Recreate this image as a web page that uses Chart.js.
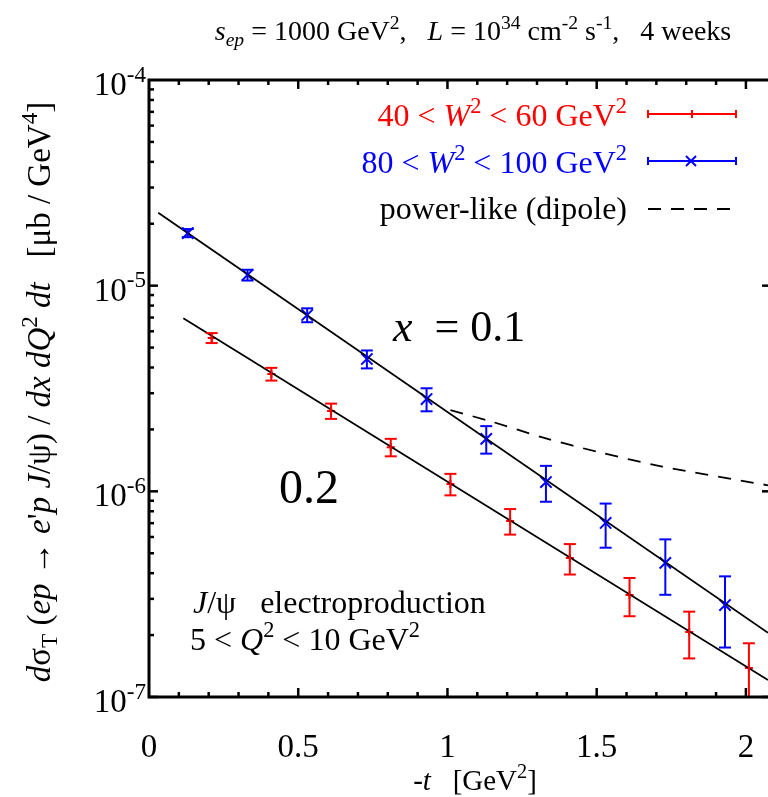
<!DOCTYPE html>
<html>
<head>
<meta charset="utf-8">
<script src="https://cdn.jsdelivr.net/npm/chart.js@4"></script>
<style>
  html, body { margin: 0; padding: 0; background: #fff; }
  canvas { display: block; }
</style>
</head>
<body>
<canvas id="chart" width="768" height="797"></canvas>
<script>
// values
const xTicks = [0, 0.5, 1, 1.5, 2];
const xTickLabels = ['0', '0.5', '1', '1.5', '2'];
const yTicks = [1e-7, 1e-6, 1e-5, 1e-4];
const yTickExp = ['-7', '-6', '-5', '-4'];

// 40 < W^2 < 60 GeV^2
const tRed = [0.21, 0.41, 0.61, 0.81, 1.01, 1.21, 1.41, 1.61, 1.81, 2.01];
const sigRed = [5.57e-6, 3.72e-6, 2.46e-6, 1.64e-6, 1.086e-6, 7.18e-7, 4.74e-7, 3.13e-7, 2.07e-7, 1.385e-7];
const errRed = [3.1e-7, 2.65e-7, 2.1e-7, 1.6e-7, 1.3e-7, 1.02e-7, 8.0e-8, 6.6e-8, 5.3e-8, 4.4e-8];

// 80 < W^2 < 100 GeV^2
const tBlue = [0.13, 0.33, 0.53, 0.73, 0.93, 1.13, 1.33, 1.53, 1.73, 1.93];
const sigBlue = [1.803e-5, 1.127e-5, 7.2e-6, 4.4e-6, 2.81e-6, 1.8e-6, 1.11e-6, 7.02e-7, 4.49e-7, 2.8e-7];
const errBlue = [8.2e-7, 6.8e-7, 5.6e-7, 4.4e-7, 3.6e-7, 2.75e-7, 2.2e-7, 1.7e-7, 1.35e-7, 1.06e-7];

// exponential fits (straight lines on the log plot)
const tFitBlue = [0.031, 2.074];
const fitBlue = [2.265e-5, 2.05e-7];
const tFitRed = [0.115, 2.074];
const fitRed = [6.94e-6, 1.21e-7];

// power-like (dipole)
const tDipole = [1.01, 1.14, 1.33, 1.50, 1.72, 2.074];
const dipole = [2.48e-6, 2.20e-6, 1.81e-6, 1.56e-6, 1.32e-6, 1.07e-6];

const RED = '#ff0000';
const BLUE = '#0000ff';
const SERIF = '"Liberation Serif", "DejaVu Serif", serif';

function pts(xs, ys) {
    return xs.map((x, i) => ({ x: x, y: ys[i] }));
}

// draw text made of pieces: [text, style]; style may hold i (italic), ^ (sup), _ (sub)
function rich(ctx, parts, x, y, size, align, color) {
    const segs = parts.map(p => {
        const txt = p[0];
        const st = p[1] || '';
        const small = st.includes('^') || st.includes('_');
        const fs = small ? size * 0.7 : size;
        const font = (st.includes('i') ? 'italic ' : '') + fs + 'px ' + SERIF;
        ctx.font = font;
        let dy = 0;
        if (st.includes('^')) dy = -size * 0.4;
        if (st.includes('_')) dy = size * 0.22;
        return { txt, font, w: ctx.measureText(txt).width, dy };
    });
    const total = segs.reduce((a, s) => a + s.w, 0);
    let cx = x;
    if (align === 'center') cx = x - total / 2;
    if (align === 'right') cx = x - total;
    ctx.fillStyle = color || '#000';
    ctx.textAlign = 'left';
    ctx.textBaseline = 'alphabetic';
    segs.forEach(s => {
        ctx.font = s.font;
        ctx.fillText(s.txt, cx, y + s.dy);
        cx += s.w;
    });
    return total;
}

function line(ctx, x1, y1, x2, y2) {
    ctx.beginPath();
    ctx.moveTo(x1, y1);
    ctx.lineTo(x2, y2);
    ctx.stroke();
}

// error bars from dataset.errors, through the y scale
const errorBars = {
    id: 'errorBars',
    afterDatasetsDraw(chart) {
        const ctx = chart.ctx;
        const ys = chart.scales.y;
        const area = chart.chartArea;
        ctx.save();
        ctx.beginPath();
        ctx.rect(area.left, area.top, area.right - area.left, area.bottom - area.top);
        ctx.clip();
        chart.data.datasets.forEach((ds, i) => {
            if (!ds.errors) return;
            const meta = chart.getDatasetMeta(i);
            ctx.strokeStyle = ds.borderColor;
            ctx.lineWidth = 2;
            meta.data.forEach((el, j) => {
                const v = ds.data[j].y;
                const e = ds.errors[j];
                const top = ys.getPixelForValue(v + e);
                const bot = v - e > 0 ? ys.getPixelForValue(v - e) : area.bottom + 10;
                line(ctx, el.x, top, el.x, bot);
                line(ctx, el.x - 6, top, el.x + 6, top);
                line(ctx, el.x - 6, bot, el.x + 6, bot);
            });
        });
        ctx.restore();
    }
};

// frame, inward ticks, labels, legend and notes
const decorations = {
    id: 'decorations',
    afterDraw(chart) {
        const ctx = chart.ctx;
        const xs = chart.scales.x;
        const ys = chart.scales.y;
        const a = chart.chartArea;
        ctx.save();

        // frame
        ctx.strokeStyle = '#000';
        ctx.lineWidth = 3;
        ctx.lineJoin = 'miter';
        ctx.beginPath();
        ctx.moveTo(a.right + 2, a.top);
        ctx.lineTo(a.left, a.top);
        ctx.lineTo(a.left, a.bottom);
        ctx.lineTo(a.right + 2, a.bottom);
        ctx.stroke();

        // y ticks
        ctx.lineWidth = 2.5;
        for (let d = -7; d < -4; d++) {
            for (let m = 1; m < 10; m++) {
                const py = ys.getPixelForValue(m * Math.pow(10, d));
                const len = m === 1 ? 9 : 5;
                line(ctx, a.left, py, a.left + len, py);
                if (m === 1) line(ctx, a.right + 3, py, a.right + 3 - len, py);
            }
        }
        // x ticks
        for (let k = 1; k <= 20; k++) {
            const px = xs.getPixelForValue(k / 10);
            const len = k % 5 === 0 ? 9 : 5;
            line(ctx, px, a.bottom, px, a.bottom - len);
            line(ctx, px, a.top, px, a.top + len);
        }

        // tick labels
        xTicks.forEach((v, i) => {
            rich(ctx, [[xTickLabels[i]]], xs.getPixelForValue(v), 757, 33, 'center');
        });
        yTicks.forEach((v, i) => {
            const py = ys.getPixelForValue(v);
            rich(ctx, [['10'], [yTickExp[i], '^']], 146, py + 15, 33, 'right');
        });

        // axis titles
        rich(ctx, [['-'], ['t', 'i'], ['   [GeV'], ['2', '^'], [']']], 475, 790, 29, 'center');
        ctx.save();
        ctx.translate(50, 392);
        ctx.rotate(-Math.PI / 2);
        rich(ctx, [['d', 'i'], ['σ'], ['T', '_'], [' ('], ['ep', 'i'], [' → '], ['e', 'i'], ["'"], ['p', 'i'],
            [' '], ['J', 'i'], ['/ψ) / '], ['dx dQ', 'i'], ['2', '^'], [' dt', 'i'], ['   [μb / GeV'], ['4', '^'], [']']],
            0, 0, 33, 'center');
        ctx.restore();

        // title
        rich(ctx, [['s', 'i'], ['ep', 'i_'], [' = 1000 GeV'], ['2', '^'], [',   '], ['L', 'i'], [' = 10'], ['34', '^'],
            [' cm'], ['-2', '^'], [' s'], ['-1', '^'], [',   4 weeks']], 473, 40, 28, 'center');

        // legend
        rich(ctx, [['40 < '], ['W', 'i'], ['2', '^'], [' < 60 GeV'], ['2', '^']], 627, 126, 32, 'right', RED);
        rich(ctx, [['80 < '], ['W', 'i'], ['2', '^'], [' < 100 GeV'], ['2', '^']], 627, 173, 32, 'right', BLUE);
        rich(ctx, [['power-like (dipole)']], 627, 219, 32, 'right', '#000');
        ctx.lineWidth = 2;
        ctx.strokeStyle = RED;
        line(ctx, 648, 114, 736, 114);
        line(ctx, 648, 110, 648, 118);
        line(ctx, 736, 110, 736, 118);
        line(ctx, 692, 110, 692, 118);
        ctx.strokeStyle = BLUE;
        line(ctx, 648, 161, 736, 161);
        line(ctx, 648, 157, 648, 165);
        line(ctx, 736, 157, 736, 165);
        line(ctx, 686, 156, 696, 166);
        line(ctx, 686, 166, 696, 156);
        ctx.strokeStyle = '#000';
        ctx.lineWidth = 1.8;
        ctx.setLineDash([13, 10]);
        line(ctx, 648, 209, 736, 209);
        ctx.setLineDash([]);

        // notes
        rich(ctx, [['x', 'i'], ['  = 0.1']], 393, 341, 44, 'left');
        rich(ctx, [['0.2']], 279, 503, 48, 'left');
        rich(ctx, [['J', 'i'], ['/ψ   electroproduction']], 193, 613, 32, 'left');
        rich(ctx, [['5 < '], ['Q', 'i'], ['2', '^'], [' < 10 GeV'], ['2', '^']], 190, 650, 32, 'left');

        ctx.restore();
    }
};

const ctx = document.getElementById('chart').getContext('2d');
new Chart(ctx, {
    type: 'scatter',
    data: {
        datasets: [{
            label: 'fit 80-100',
            type: 'line',
            data: pts(tFitBlue, fitBlue),
            borderColor: '#000',
            borderWidth: 1.8,
            pointRadius: 0,
            fill: false
        }, {
            label: 'fit 40-60',
            type: 'line',
            data: pts(tFitRed, fitRed),
            borderColor: '#000',
            borderWidth: 1.8,
            pointRadius: 0,
            fill: false
        }, {
            label: 'power-like (dipole)',
            type: 'line',
            data: pts(tDipole, dipole),
            borderColor: '#000',
            borderWidth: 1.8,
            borderDash: [13, 10],
            pointRadius: 0,
            tension: 0.3,
            fill: false
        }, {
            label: '40 < W2 < 60 GeV2',
            data: pts(tRed, sigRed),
            errors: errRed,
            borderColor: RED,
            backgroundColor: RED,
            pointStyle: 'cross',
            pointRadius: 4,
            borderWidth: 2
        }, {
            label: '80 < W2 < 100 GeV2',
            data: pts(tBlue, sigBlue),
            errors: errBlue,
            borderColor: BLUE,
            backgroundColor: BLUE,
            pointStyle: 'crossRot',
            pointRadius: 8,
            borderWidth: 2
        }]
    },
    options: {
        responsive: false,
        devicePixelRatio: 1,
        animation: false,
        layout: { autoPadding: false, padding: { top: 80, left: 0, right: 0, bottom: 0 } },
        plugins: {
            legend: { display: false },
            tooltip: { enabled: false }
        },
        scales: {
            x: {
                type: 'linear',
                min: 0,
                max: 2.074,
                grid: { display: false },
                border: { display: false },
                ticks: { display: false },
                afterFit: function(scale) {
                    scale.height = 100;
                    scale.paddingLeft = 0;
                    scale.paddingRight = 0;
                }
            },
            y: {
                type: 'logarithmic',
                min: 1e-7,
                max: 1e-4,
                grid: { display: false },
                border: { display: false },
                ticks: { display: false },
                afterFit: function(scale) {
                    scale.width = 149;
                    scale.paddingTop = 0;
                    scale.paddingBottom = 0;
                }
            }
        }
    },
    plugins: [errorBars, decorations]
});
</script>
</body>
</html>
